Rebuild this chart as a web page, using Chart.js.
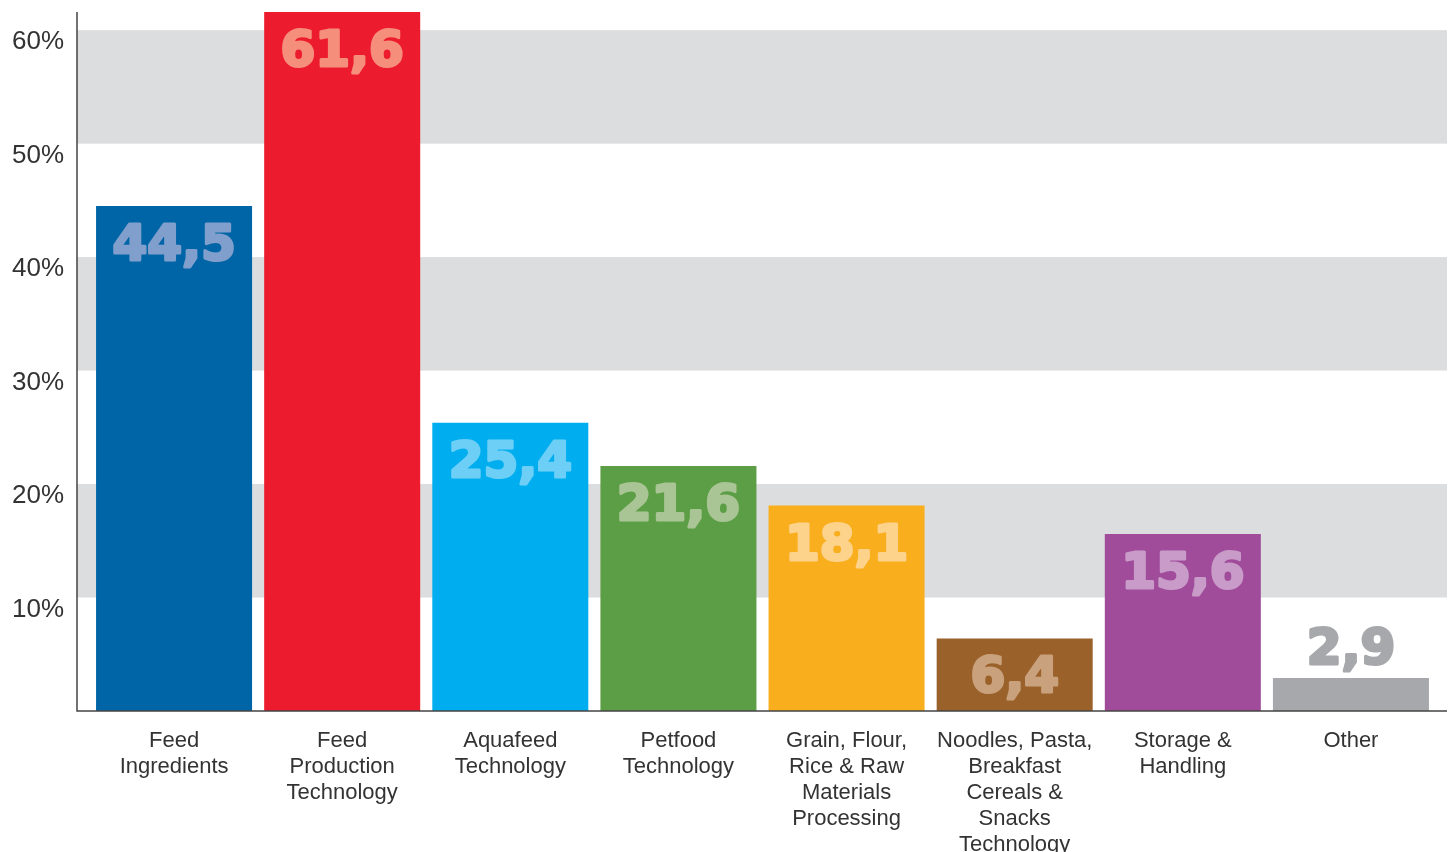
<!DOCTYPE html>
<html>
<head>
<meta charset="utf-8">
<script src="https://cdn.jsdelivr.net/npm/chart.js@4/dist/chart.umd.min.js"></script>
<style>
    html, body { margin: 0; padding: 0; background: #fff; }
    #wrap { width: 1456px; height: 852px; }
</style>
</head>
<body>
<div id="wrap"><canvas id="exhibitors"></canvas></div>
<script>
// categories and shares (percent)
const categories = [
    ['Feed', 'Ingredients'],
    ['Feed', 'Production', 'Technology'],
    ['Aquafeed', 'Technology'],
    ['Petfood', 'Technology'],
    ['Grain, Flour,', 'Rice & Raw', 'Materials', 'Processing'],
    ['Noodles, Pasta,', 'Breakfast', 'Cereals &', 'Snacks', 'Technology'],
    ['Storage &', 'Handling'],
    ['Other']
];
const shares = [44.5, 61.6, 25.4, 21.6, 18.1, 6.4, 15.6, 2.9];
const shareLabels = ['44,5', '61,6', '25,4', '21,6', '18,1', '6,4', '15,6', '2,9'];
const yTicks = [10, 20, 30, 40, 50, 60];
const bands = [[10, 20], [30, 40], [50, 60]];

const barColors = ['#0065a6', '#ed1b2e', '#00aeef', '#5c9e45', '#f9ae1d', '#9b612b', '#a04c9b', '#a7a8ab'];
const labelColors = ['#819fcc', '#f58f7c', '#6dcff6', '#aac595', '#fdd28a', '#c9a27d', '#c89bc8', '#a7a8ab'];

// grey bands + axis lines, extended a bit past the category area
const framePlugin = {
    id: 'frame',
    beforeDatasetsDraw(chart) {
        const ctx = chart.ctx, area = chart.chartArea, y = chart.scales.y;
        ctx.save();
        ctx.fillStyle = '#dcdddf';
        bands.forEach(b => {
            const top = y.getPixelForValue(b[1]);
            const bot = y.getPixelForValue(b[0]);
            ctx.fillRect(area.left - 13, top, area.right - area.left + 25, bot - top);
        });
        ctx.restore();
    },
    afterDatasetsDraw(chart) {
        const ctx = chart.ctx, area = chart.chartArea;
        ctx.save();
        ctx.strokeStyle = '#444';
        ctx.lineWidth = 1.5;
        ctx.beginPath();
        ctx.moveTo(area.left - 13, area.top);
        ctx.lineTo(area.left - 13, area.bottom);
        ctx.lineTo(area.right + 12, area.bottom);
        ctx.stroke();
        ctx.restore();
    }
};

// big value labels at the top of each bar (above it when the bar is too short)
const valuePlugin = {
    id: 'values',
    afterDatasetsDraw(chart) {
        const ctx = chart.ctx;
        const meta = chart.getDatasetMeta(0);
        ctx.save();
        ctx.font = 'bold 50px "DejaVu Sans"';
        ctx.textAlign = 'center';
        ctx.textBaseline = 'alphabetic';
        ctx.lineWidth = 3;
        ctx.lineJoin = 'round';
        meta.data.forEach((bar, i) => {
            const h = bar.base - bar.y;
            const ty = (h < 60) ? bar.y - 14 : bar.y + 54;
            ctx.fillStyle = labelColors[i];
            ctx.strokeStyle = labelColors[i];
            ctx.fillText(shareLabels[i], bar.x, ty);
            ctx.strokeText(shareLabels[i], bar.x, ty);
        });
        ctx.restore();
    }
};

const chartConfig = {
    type: 'bar',
    data: {
        labels: categories,
        datasets: [{
            data: shares,
            backgroundColor: barColors,
            borderWidth: 0,
            categoryPercentage: 1,
            barPercentage: 0.928
        }]
    },
    options: {
        responsive: true,
        maintainAspectRatio: false,
        animation: false,
        layout: { padding: { top: 12, right: 21, left: 0, bottom: 0 } },
        plugins: {
            legend: { display: false },
            tooltip: { enabled: false }
        },
        scales: {
            x: {
                grid: { display: false },
                border: { display: false },
                ticks: {
                    color: '#333',
                    padding: 9,
                    maxRotation: 0,
                    autoSkip: false,
                    font: { family: '"Liberation Sans", Arial, sans-serif', size: 22, lineHeight: 1.18 }
                },
                afterFit(scale) {
                    scale.height = 141;
                    scale.paddingLeft = 0;
                    scale.paddingRight = 0;
                }
            },
            y: {
                min: 0,
                max: 61.6,
                grid: { display: false },
                border: { display: false },
                afterBuildTicks(scale) {
                    scale.ticks = yTicks.map(v => ({ value: v }));
                },
                ticks: {
                    color: '#333',
                    padding: 18,
                    labelOffset: 12,
                    font: { family: '"Liberation Sans", Arial, sans-serif', size: 26 },
                    callback: function(value) {
                        return value + '%';
                    }
                },
                afterFit(scale) {
                    scale.width = 90;
                    scale.paddingTop = 0;
                    scale.paddingBottom = 0;
                }
            }
        }
    },
    plugins: [framePlugin, valuePlugin]
};

new Chart(document.getElementById('exhibitors'), chartConfig);
</script>
</body>
</html>
